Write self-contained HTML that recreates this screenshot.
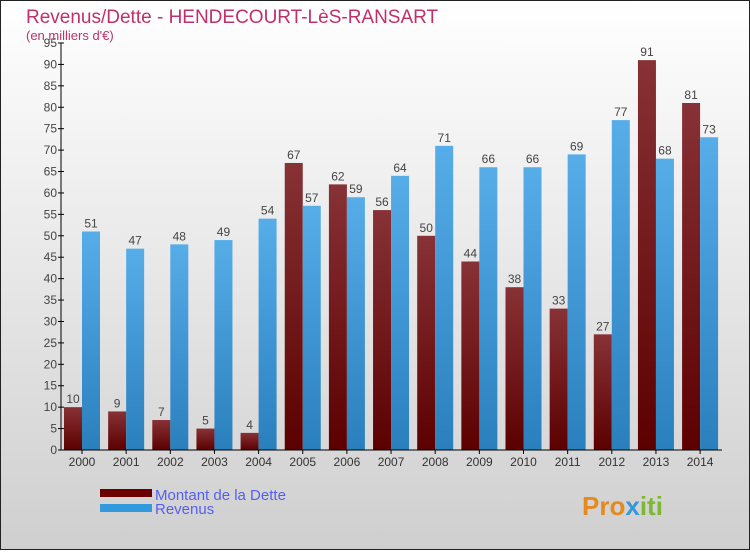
<!DOCTYPE html>
<html><head><meta charset="utf-8"><style>
body{margin:0;width:750px;height:550px;overflow:hidden;font-family:"Liberation Sans",sans-serif}
</style></head><body>
<svg id="chart" width="750" height="550" xmlns="http://www.w3.org/2000/svg">
<defs>
<linearGradient id="bg" x1="0" y1="0" x2="0" y2="1"><stop offset="0" stop-color="#ffffff"/><stop offset="1" stop-color="#cfcfcf"/></linearGradient>
<linearGradient id="red" x1="0" y1="0" x2="0" y2="1"><stop offset="0" stop-color="#873236"/><stop offset="1" stop-color="#5c0000"/></linearGradient>
<linearGradient id="blue" x1="0" y1="0" x2="0" y2="1"><stop offset="0" stop-color="#56ade8"/><stop offset="1" stop-color="#2a7fbd"/></linearGradient>
</defs>
<rect x="0.5" y="0.5" width="749" height="549" fill="url(#bg)" stroke="#222"/>
<text x="26" y="23" font-size="19" fill="#c0306a">Revenus/Dette - HENDECOURT-LèS-RANSART</text>
<text x="26" y="40" font-size="13" fill="#c0306a">(en milliers d'€)</text>
<g id="bars"></g>
<g id="axes"></g>
<rect x="100" y="489" width="52" height="8" fill="#6a0000"/>
<rect x="100" y="504" width="52" height="8" fill="#3399dd"/>
<text x="155" y="500" font-size="15" fill="#5560ee">Montant de la Dette</text>
<text x="155" y="514" font-size="15" fill="#5560ee">Revenus</text>
<text x="582" y="515" font-size="26" font-weight="bold" fill="#e58a1f">Pro<tspan fill="#3399dd">x</tspan><tspan fill="#7cb832">iti</tspan></text>
</svg>
<script>
const years=["2000","2001","2002","2003","2004","2005","2006","2007","2008","2009","2010","2011","2012","2013","2014"];
const dette=[10,9,7,5,4,67,62,56,50,44,38,33,27,91,81];
const revenus=[51,47,48,49,54,57,59,64,71,66,66,69,77,68,73];
const yTicks=[0,5,10,15,20,25,30,35,40,45,50,55,60,65,70,75,80,85,90,95];
const NS="http://www.w3.org/2000/svg";
const y0=450,yTop=43,yMax=95;
const yScale=v=>y0-(v/yMax)*(y0-yTop);
const xCenter=i=>82+i*44.15;
const bw=18;
function mk(tag,attrs,parent){const e=document.createElementNS(NS,tag);for(const k in attrs)e.setAttribute(k,attrs[k]);parent.appendChild(e);return e;}
const bars=document.getElementById('bars'),axes=document.getElementById('axes');
years.forEach((yr,i)=>{
  const c=xCenter(i);
  [[dette[i],c-bw,'url(#red)','debt'],[revenus[i],c,'url(#blue)','revenue']].forEach(([v,x,f,n])=>{
    const r=mk('rect',{x:x,y:yScale(v),width:bw,height:y0-yScale(v),fill:f},bars);
    
    
    const t=mk('text',{x:x+bw/2,y:yScale(v)-4,'font-size':12,fill:'#444','text-anchor':'middle'},bars);
    
    
    t.textContent=v;
  });
  const tk=mk('line',{x1:c,x2:c,y1:y0,y2:y0+4,stroke:'#000'},axes);
  
  
  const lt=mk('text',{x:c,y:y0+16,'font-size':12,fill:'#333','text-anchor':'middle'},axes);
  
  
  lt.textContent=yr;
});
yTicks.forEach(v=>{
  const y=yScale(v);
  const tk=mk('line',{x1:58,x2:64,y1:y,y2:y,stroke:'#000'},axes);
  
  
  const t=mk('text',{x:57,y:y+4,'font-size':12,fill:'#444','text-anchor':'end'},axes);
  
  
  t.textContent=v;
});
const ya=mk('line',{x1:61,x2:61,y1:yTop,y2:y0,stroke:'#000'},axes);


const xa=mk('line',{x1:61,x2:722,y1:y0,y2:y0,stroke:'#000'},axes);


</script>
</body></html>
